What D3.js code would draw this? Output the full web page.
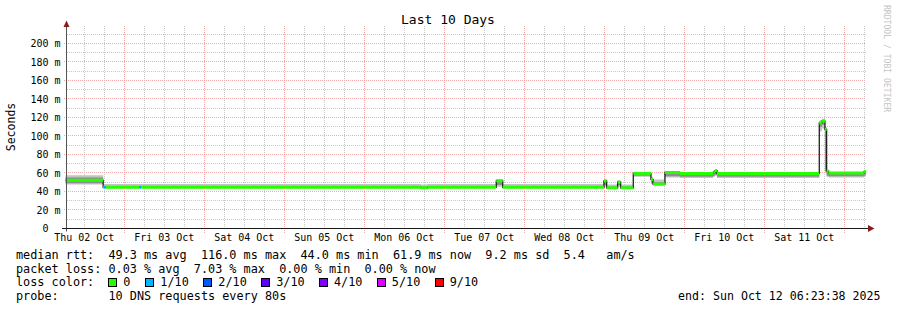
<!DOCTYPE html>
<html>
<head>
<meta charset="utf-8">
<script src="https://cdn.jsdelivr.net/npm/d3@7"></script>
<style>
  html, body { margin: 0; padding: 0; background: #ffffff; }
  svg { display: block; }
  text { font-family: "DejaVu Sans Mono", monospace; fill: #000; white-space: pre; }
</style>
</head>
<body>
<svg id="chart" width="897" height="310"></svg>
<script>
// ---------------- data ----------------
const title = "Last 10 Days";
const yAxisTitle = "Seconds";
const startTime = "2025-10-02T06:23:38";
const endTime = "2025-10-12T06:23:38";

// breakpoints of the step series (median RTT in ms)
const times = [
  "2025-10-02T06:23", "2025-10-02T17:40", "2025-10-02T17:55", "2025-10-02T18:25",
  "2025-10-03T04:35", "2025-10-03T05:00", "2025-10-06T17:00", "2025-10-06T18:54",
  "2025-10-07T15:36", "2025-10-07T17:31", "2025-10-08T23:54", "2025-10-09T00:42",
  "2025-10-09T04:00", "2025-10-09T04:54", "2025-10-09T08:42", "2025-10-09T14:00",
  "2025-10-09T14:36", "2025-10-09T18:12", "2025-10-09T22:42", "2025-10-10T08:42",
  "2025-10-10T09:12", "2025-10-10T09:48", "2025-10-11T16:30", "2025-10-11T17:18",
  "2025-10-11T18:12", "2025-10-11T18:42", "2025-10-11T19:18", "2025-10-12T05:54"
];
const median = [52, 44.5, 44.5, 44.5, 44.5, 44.5, 44, 44.5, 51.5, 44.5, 51.5, 44, 50, 44,
  59.6, 53, 48, 60.5, 59.5, 61, 62.5, 59.5, 114, 116, 107, 62, 60, 61.5];
// packet loss (pings lost out of 10) per segment
const loss = [0, 0, 1, 0, 1, 0, 0, 0, 0, 0, 0, 0, 0, 0, 0, 0, 0, 0, 0, 0, 0, 0, 0, 0, 0, 0, 0, 0];
// smoke: outer (light) and inner (dark) ranges of the ping distribution, ms
const smokeLo = [47.5, 44, 44, 44, 44, 44, 43.5, 44, 45, 44, 45, 43.5, 45, 43.5,
  56, 48, 46.5, 55, 54.5, 56, 57, 54.5, 105, 108, 60, 56, 55, 56];
const smokeHi = [57.5, 48, 48, 48, 48, 48, 47.5, 48, 53.5, 48, 53, 47.5, 52, 47.5,
  61, 56, 53, 61.5, 60.5, 62, 63.5, 60.5, 117, 118.5, 110, 63, 61, 62.5];
const darkLo = [49, 44, 44, 44, 44, 44, 43.5, 44, 47, 44, 47, 43.5, 47, 43.5,
  57, 50, 47, 56.5, 56, 57, 58, 56, 110, 112, 62, 57, 56.5, 57];
const darkHi = [55, 46, 46, 46, 46, 46, 45.5, 46, 52, 46, 52, 45.5, 51, 45.5,
  60, 54, 50, 60, 59.5, 61, 62, 59.5, 115, 117, 108, 61, 60, 61.5];

const yTicks = [0, 20, 40, 60, 80, 100, 120, 140, 160, 180, 200];
const yTickLabels = ["0  ", "20 m", "40 m", "60 m", "80 m", "100 m", "120 m", "140 m", "160 m", "180 m", "200 m"];

const lossLevels = ["0", "1/10", "2/10", "3/10", "4/10", "5/10", "9/10"];
const lossLevelValues = [0, 1, 2, 3, 4, 5, 9];
const lossColors = ["#26ff00", "#00b8ff", "#0059ff", "#5e00ff", "#7e00ff", "#dd00ff", "#ff0000"];

const legendRtt = "median rtt:  49.3 ms avg  116.0 ms max  44.0 ms min  61.9 ms now  9.2 ms sd  5.4   am/s";
const legendLoss = "packet loss: 0.03 % avg  7.03 % max  0.00 % min  0.00 % now";
const legendLossColor = "loss color:";
const legendProbe = "probe:       10 DNS requests every 80s";
const legendEnd = "end: Sun Oct 12 06:23:38 2025";
const watermark = "RRDTOOL / TOBI OETIKER";

// ---------------- drawing ----------------
const svg = d3.select("#chart");
const t0 = new Date(startTime), t1 = new Date(endTime);
const T = times.map(s => new Date(s));
const x = d3.scaleTime().domain([t0, t1]).range([65.6, 865.6]);
const y = d3.scaleLinear().domain([0, 200]).range([228.5, 43.4]);
const yTop = y.invert(26);
const px = v => Math.floor(v) + 0.5;
const ix = v => Math.round(v);

const gridGrey = "#c8c8c8", gridRed = "#f4aaaa";

// minor vertical grid (6h)
const minorT = d3.timeHour.every(6).range(t0, t1).filter(d => d.getHours() !== 0);
svg.append("g").selectAll("line").data(minorT).join("line")
  .attr("x1", d => px(x(d))).attr("x2", d => px(x(d)))
  .attr("y1", ix(y(yTop))).attr("y2", ix(y(0)))
  .attr("stroke", gridGrey).attr("stroke-dasharray", "1,1");
// minor horizontal grid (10 ms)
const minorY = d3.range(10, yTop, 20);
svg.append("g").selectAll("line").data(minorY).join("line")
  .attr("x1", ix(x(t0)) + 1).attr("x2", ix(x(t1)))
  .attr("y1", d => px(y(d))).attr("y2", d => px(y(d)))
  .attr("stroke", gridGrey).attr("stroke-dasharray", "1,1");
// major vertical grid (days)
const majorT = d3.timeDay.range(t0, t1);
svg.append("g").selectAll("line").data(majorT).join("line")
  .attr("x1", d => px(x(d))).attr("x2", d => px(x(d)))
  .attr("y1", ix(y(yTop))).attr("y2", ix(y(0)) + 4)
  .attr("stroke", gridRed).attr("stroke-dasharray", "1,1");
// major horizontal grid (20 ms)
svg.append("g").selectAll("line").data(yTicks.slice(1)).join("line")
  .attr("x1", ix(x(t0)) - 2).attr("x2", ix(x(t1)))
  .attr("y1", d => px(y(d))).attr("y2", d => px(y(d)))
  .attr("stroke", gridRed).attr("stroke-dasharray", "1,1");

// smoke areas
const idx = d3.range(times.length + 1);
const tx = i => x(i < T.length ? T[i] : t1);
const vi = (arr, i) => arr[Math.min(i, arr.length - 1)];
const area = (lo, hi) => d3.area().curve(d3.curveStepAfter)
  .x(i => tx(i)).y0(i => y(vi(lo, i))).y1(i => y(vi(hi, i)));
svg.append("path").attr("d", area(smokeLo, smokeHi)(idx)).attr("fill", "#c4c4c4");
svg.append("path").attr("d", area(darkLo, darkHi)(idx)).attr("fill", "#8e8e8e");

// median line (dark)
const line = d3.line().curve(d3.curveStepAfter).x(i => tx(i)).y(i => y(vi(median, i)));
svg.append("path").attr("d", line(idx)).attr("fill", "none")
  .attr("stroke", "#202020").attr("stroke-width", 1.3);

// loss-coloured median segments
const colorOf = l => lossColors[lossLevelValues.indexOf(l)] || lossColors[lossColors.length - 1];
svg.append("g").selectAll("line").data(d3.range(times.length)).join("line")
  .attr("x1", i => tx(i)).attr("x2", i => tx(i + 1))
  .attr("y1", i => y(median[i])).attr("y2", i => y(median[i]))
  .attr("stroke", i => colorOf(loss[i])).attr("stroke-width", 3);

// axes
svg.append("line").attr("x1", 66.5).attr("x2", 66.5).attr("y1", px(y(0)) + 3).attr("y2", 25)
  .attr("stroke", "#555");
svg.append("path").attr("d", "M63.5,27 L66.5,20.5 L69.5,27 Z").attr("fill", "#8b1c1c");
svg.append("line").attr("x1", 62).attr("x2", 869).attr("y1", px(y(0))).attr("y2", px(y(0)))
  .attr("stroke", "#1a1a1a");
svg.append("path").attr("d", `M868,${px(y(0)) - 3.5} L874.5,${px(y(0))} L868,${px(y(0)) + 3.5} Z`)
  .attr("fill", "#8b1c1c");

// y tick labels
svg.append("g").selectAll("text").data(yTicks).join("text")
  .attr("x", 60.5).attr("y", d => y(d)).attr("dy", "0.36em")
  .attr("text-anchor", "end").style("font-size", "10px")
  .text((d, i) => yTickLabels[i]);

// x tick labels at noon
const noons = majorT.map(d => d3.timeHour.offset(d, -12)).concat([d3.timeHour.offset(majorT[majorT.length - 1], 12)])
  .filter(d => d > t0 && d < t1);
svg.append("g").selectAll("text").data(noons).join("text")
  .attr("x", d => x(d)).attr("y", 241.3).attr("text-anchor", "middle").style("font-size", "10px")
  .text(d3.timeFormat("%a %d %b"));

// title
svg.append("text").attr("x", 448).attr("y", 23.6).attr("text-anchor", "middle")
  .style("font-size", "13px").text(title);
// y axis title
svg.append("text").attr("transform", "translate(15,127) rotate(-90)").attr("text-anchor", "middle")
  .style("font-size", "11.5px").text(yAxisTitle);
// watermark
svg.append("text").attr("transform", "translate(883.5,5) rotate(90)")
  .style("font-size", "8.1px").style("fill", "#c4c4c4").text(watermark);

// legend
const lf = "11.82px";
svg.append("text").attr("x", 16).attr("y", 258.9).style("font-size", lf).text(legendRtt);
svg.append("text").attr("x", 16).attr("y", 272.6).style("font-size", lf).text(legendLoss);
svg.append("text").attr("x", 16).attr("y", 286.3).style("font-size", lf).text(legendLossColor);
svg.append("text").attr("x", 16).attr("y", 300).style("font-size", lf).text(legendProbe);
svg.append("text").attr("x", 880.5).attr("y", 300).attr("text-anchor", "end").style("font-size", "11.6px").text(legendEnd);

const boxX = [108.5, 145.5, 203.5, 261.5, 319.5, 377.5, 435.5];
const labelX = [123.3, 160.3, 218.3, 276.2, 334, 391.8, 449.7];
const lg = svg.append("g").selectAll("g").data(lossLevels).join("g");
lg.append("rect").attr("x", (d, i) => boxX[i]).attr("y", 278.5).attr("width", 8).attr("height", 8)
  .attr("fill", (d, i) => lossColors[i]).attr("stroke", "#000");
lg.append("text").attr("x", (d, i) => labelX[i]).attr("y", 286.3).style("font-size", lf).text(d => d);
</script>
</body>
</html>
